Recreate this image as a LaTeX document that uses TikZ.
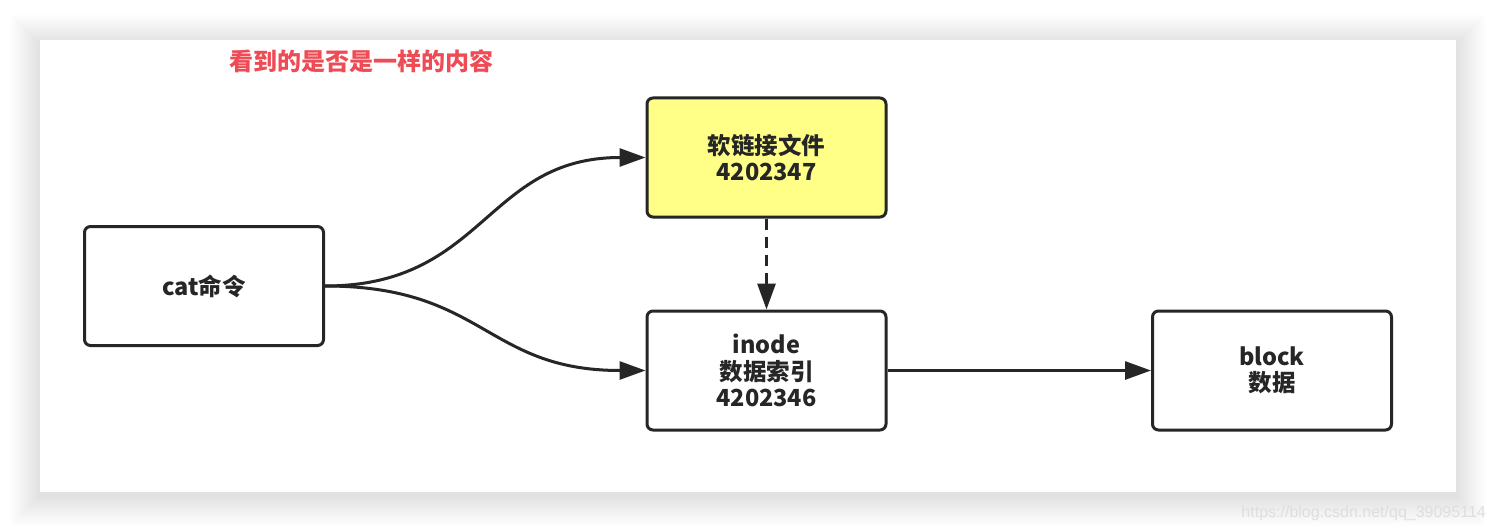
\documentclass[tikz,border=0pt]{standalone}
\usepackage{fontspec}
\setmainfont{Noto Sans CJK SC}
\newfontfamily\wmfont{Liberation Sans}
\usetikzlibrary{arrows.meta}
\definecolor{ink}{HTML}{262626}
\definecolor{softyellow}{HTML}{FFFF88}
\definecolor{titlered}{HTML}{EE4B55}
\definecolor{wmgray}{HTML}{DEDEDE}
\tikzset{
  box/.style={draw=ink, line width=3pt, rounded corners=6pt, fill=white,
    minimum width=239pt, minimum height=119pt, align=center,
    font=\fontsize{23.5}{26.5}\selectfont\bfseries, text=ink, inner sep=0pt},
  arr/.style={draw=ink, line width=3pt, -{Triangle[length=26pt,width=18pt]}},
  dasharr/.style={arr, dash pattern=on 11pt off 7pt},
}
\begin{document}
\begin{tikzpicture}[x=1pt,y=-1pt]
\useasboundingbox (0,0) rectangle (1496,532);
\fill[white] (0,0) rectangle (1496,532);
% card shadow
\foreach \i in {1,...,30} {
  \fill[black, opacity=0.0045] (40-\i,40-\i+4) rectangle (1456+\i,492+\i+4);
}
\fill[white] (40,40) rectangle (1456,492);
% title
\node[text=titlered, font=\fontsize{24}{28}\selectfont\bfseries, inner sep=0pt] (title) at (361,61) {看到的是否是一样的内容};
% boxes
\node[box] (cat) at (204,286) {cat命令};
\node[box, fill=softyellow] (soft) at (766.5,157.5) {软链接文件\\4202347};
\node[box] (inode) at (766.5,370.5) {inode\\数据索引\\4202346};
\node[box] (block) at (1272,370.5) {block\\数据};
% connectors
\draw[arr] (cat.east) .. controls +(160,0) and +(-160,0) .. (soft.west);
\draw[arr] (cat.east) .. controls +(160,0) and +(-160,0) .. (inode.west);
\draw[dasharr] (soft.south) -- (inode.north);
\draw[arr] (inode.east) -- (block.west);
% watermark
\node[text=wmgray, font=\wmfont\fontsize{16}{19}\selectfont, anchor=east, inner sep=0pt] (wm) at (1486,513) {https://blog.csdn.net/qq\_39095114};
\end{tikzpicture}
\end{document}
